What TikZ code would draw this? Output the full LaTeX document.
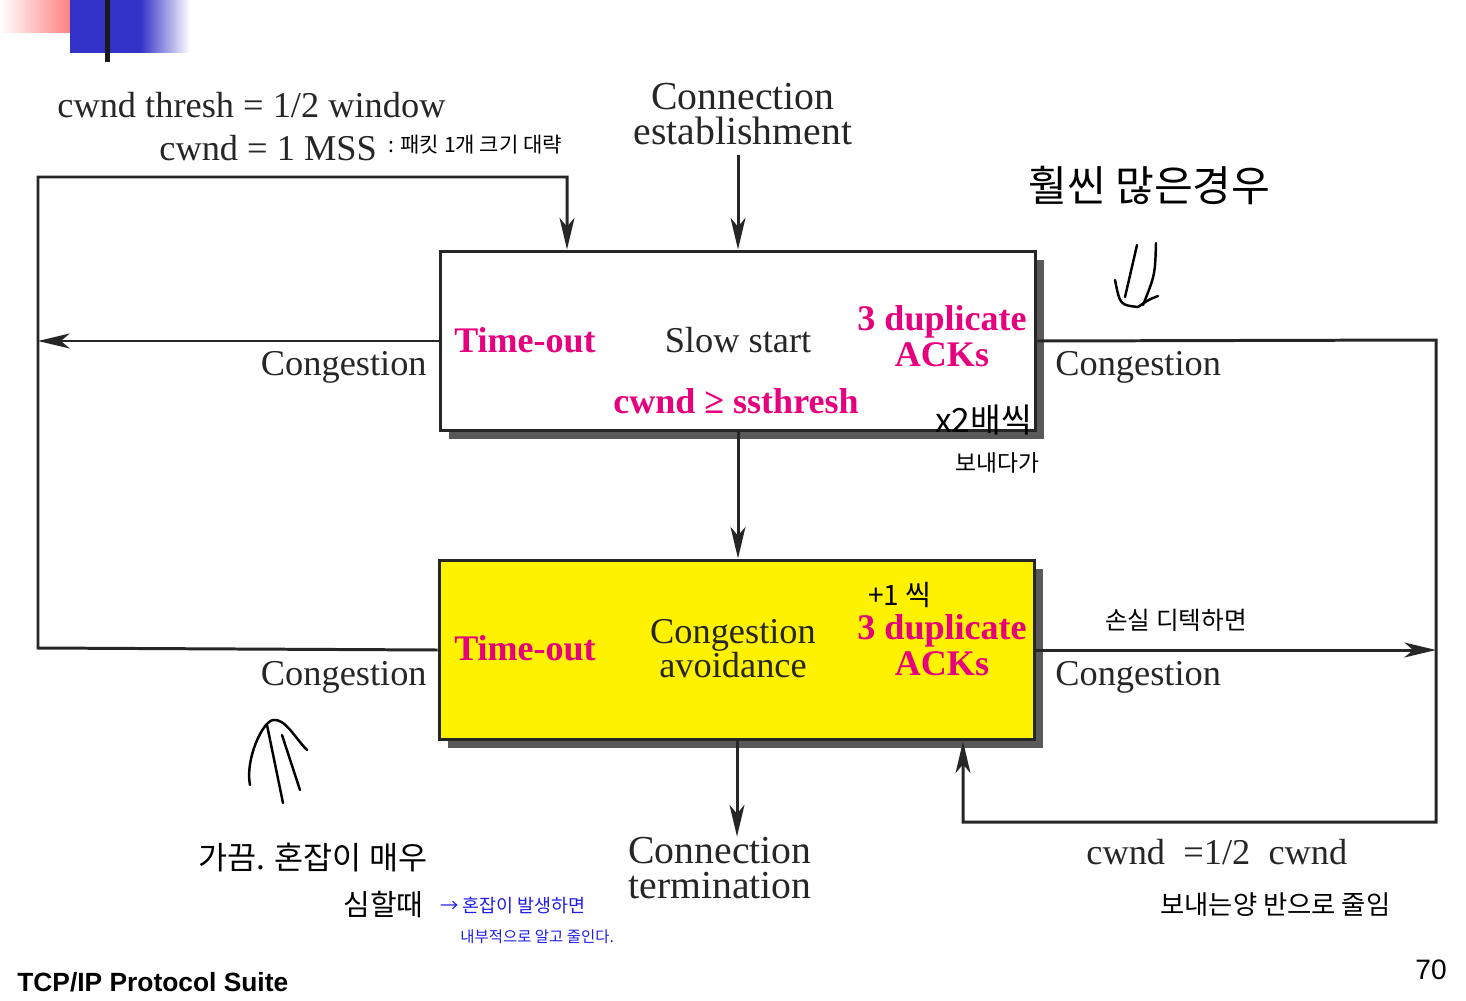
\documentclass[tikz,border=0pt]{standalone}
\usepackage{fontspec}
\setmainfont{Liberation Serif}
\newfontfamily\korfont{Noto Sans CJK KR}
\newfontfamily\footfont{Liberation Sans}
\usetikzlibrary{arrows.meta,shadows}
\definecolor{tmagenta}{RGB}{230,0,126}
\definecolor{boxyellow}{RGB}{255,242,0}
\definecolor{penblue}{RGB}{30,30,230}
\definecolor{logoblue}{RGB}{50,50,200}
\definecolor{logored}{RGB}{255,90,90}

\begin{document}
\begin{tikzpicture}[
  x=0.02cm, y=-0.02cm,
  statebox/.style={draw=black!85, line width=1.7pt, minimum width=11.92cm, minimum height=3.6cm, inner sep=0pt,
    drop shadow={shadow xshift=0.17cm, shadow yshift=-0.17cm, fill=black!65, opacity=1}},
  conn/.style={line width=1.7pt, draw=black!85, -{Stealth[length=18pt, width=8.5pt, inset=5pt]}},
  lbl/.style={font=\fontsize{20.7}{19.3}\selectfont, text=black!85, inner sep=0pt, align=center},
  biglbl/.style={font=\fontsize{22.6}{20.2}\selectfont, text=black!85, inner sep=0pt, align=center},
  event/.style={font=\fontsize{20.5}{20.4}\selectfont\bfseries, text=tmagenta, inner sep=0pt, align=center},
  pen/.style={font=\korfont\fontsize{#1}{#1}\selectfont, text=black, inner sep=0pt},
  hand/.style={line width=1.4pt, line cap=round, line join=round}
]
  \useasboundingbox (0,0) rectangle (1466,1000);

  % logo corner
  \shade[left color=white, right color=logored] (0,0) rectangle (92,33);
  \fill[logoblue] (70,0) rectangle (140,53);
  \shade[left color=logoblue, right color=white] (140,0) rectangle (190,53);
  \fill[black!90] (105,0) rectangle (110,62);

  % states
  \node[statebox, fill=white] (ss) at (738,341) {};
  \node[statebox, fill=boxyellow] (ca) at (737,650) {};

  \node[event] (ssto) at (525,340) {Time-out};
  \node[lbl] (sslbl) at (738,340) {Slow start};
  \node[event] (ssdup) at (942,336) {3 duplicate\\ACKs};
  \node[event] (ssgo) at (736,401) {cwnd ≥ ssthresh};

  \node[event] (cato) at (525,648) {Time-out};
  \node[lbl] (calbl) at (733,649) {Congestion\\avoidance};
  \node[event] (cadup) at (942,645) {3 duplicate\\ACKs};

  % outside labels
  \node[lbl, anchor=east] (cgtl) at (427,367) {Congestion};
  \node[lbl, anchor=west] (cgtr) at (1055,367) {Congestion};
  \node[lbl, anchor=east] (cgbl) at (427,677) {Congestion};
  \node[lbl, anchor=west] (cgbr) at (1055,677) {Congestion};
  \node[biglbl] (est) at (743,114) {Connection\\establishment};
  \node[biglbl] (term) at (720,868) {Connection\\termination};
  \node[lbl, anchor=west] (thr) at (57,105) {cwnd thresh = 1/2 window};
  \node[lbl, anchor=west] (mss) at (159,148) {cwnd = 1 MSS};
  \node[lbl, anchor=west] (half) at (1086,852) {cwnd \ =1/2 \ cwnd};

  \coordinate (lt) at (38,177);
  \coordinate (lb) at (38,648);
  \coordinate (ltop) at (567,177);
  \coordinate (rt) at (1436,340);
  \coordinate (rb) at (1436,822);
  \coordinate (rbl) at (963,822);

  % transitions
  \draw[conn] (ca.west) -- (lb) -- (lt) -- (ltop) -- (ss.north -| ltop);
  \draw[conn] (ss.west) -- (ss.west -| lt);
  \draw[conn] ([yshift=-0.2cm]est.south -| ss.north) -- (ss.north);
  \draw[conn] (ss.south) -- (ca.north -| ss.south);
  \draw[conn] (ss.east) -- (rt) -- (rb) -- (rbl) -- (ca.south -| rbl);
  \draw[conn] (ca.east) -- (ca.east -| rt);
  \draw[conn] (ca.south) -- (term.north -| ca.south);

  % handwritten notes
  \node[pen=12, anchor=west] (n1) at (388,145) {: 패킷 1개 크기 대략};
  \node[pen=24, anchor=west] (n2) at (1028,185) {훨씬 많은경우};
  \node[pen=19, anchor=west] (n3) at (935,420) {x2배씩};
  \node[pen=13, anchor=west] (n4) at (955,463) {보내다가};
  \node[pen=16, anchor=west] (n5) at (868,595) {+1 씩};
  \node[pen=14, anchor=west] (n6) at (1105,620) {손실 디텍하면};
  \node[pen=18, anchor=west] (n7) at (198,858) {가끔. 혼잡이 매우};
  \node[pen=16.5, anchor=west] (n8) at (343,905) {심할때};
  \node[pen=10.5, anchor=west, text=penblue] (n9) at (440,905) {→ 혼잡이 발생하면};
  \node[pen=8.8, anchor=west, text=penblue] (n10) at (460,937) {내부적으로 알고 줄인다.};
  \node[pen=15, anchor=west] (n11) at (1160,905) {보내는양 반으로 줄임};

  \draw[hand] (1137,245) -- (1125,297);
  \draw[hand] (1156,243) .. controls (1155,275) .. (1143,305);
  \draw[hand] (1115,280) .. controls (1120,305) .. (1138,307) .. controls (1148,300) .. (1158,296);
  \draw[hand] (250,785) .. controls (245,760) and (262,722) .. (273,720) .. controls (285,718) and (295,738) .. (307,750);
  \draw[hand] (267,725) -- (283,803);
  \draw[hand] (282,735) -- (300,790);

  % footer
  \node[font=\footfont\fontsize{15}{15}\selectfont\bfseries, anchor=west, inner sep=0pt] (suite) at (17,982) {TCP/IP Protocol Suite};
  \node[font=\footfont\fontsize{16}{16}\selectfont, anchor=east, inner sep=0pt] (page) at (1447,970) {70};
\end{tikzpicture}
\end{document}
